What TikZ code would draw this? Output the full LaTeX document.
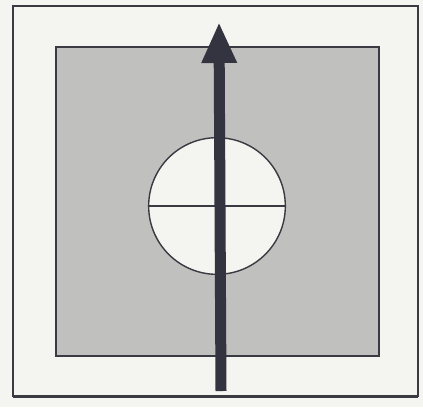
\documentclass[tikz,border=0pt]{standalone}
\usetikzlibrary{arrows.meta}

\definecolor{paper}{RGB}{244,244,240}
\definecolor{panel}{RGB}{192,192,190}
\definecolor{ink}{RGB}{58,58,66}
\definecolor{arrowink}{RGB}{52,52,64}

\tikzset{
    frame/.style={draw=ink, line width=1.4pt},
    hole/.style={circle, draw=ink, line width=1.2pt, fill=paper, minimum size=4.1cm, inner sep=0pt},
    fieldarrow/.style={draw=arrowink, line width=0.33cm, -{Triangle[length=1.23cm, width=0.98cm]}}
}

\begin{document}
\begin{tikzpicture}[x=0.03cm, y=-0.03cm]
        % Page
        \fill[paper] (0, 0) rectangle (423, 407);
        \useasboundingbox (0, 0) rectangle (423, 407);

        % Outer frame
        \draw[frame] (13, 6) rectangle (418, 396);
        \draw[ink, line width=2.4pt] (13, 397) -- (418, 397);

        % Gray plate
        \fill[panel] (56, 47) rectangle (379, 356);
        \draw[frame] (56, 47) rectangle (379, 356);

        % Hole in the plate
        \node[hole] (hole) at (217, 206) {};
        \draw[ink, line width=1.2pt] (hole.west) -- (hole.east);

        % Field arrow
        \coordinate (tail) at (221, 391);
        \coordinate (tip) at (219, 22);
        \draw[fieldarrow] (tail) -- (tip);
    \end{tikzpicture}
\end{document}
